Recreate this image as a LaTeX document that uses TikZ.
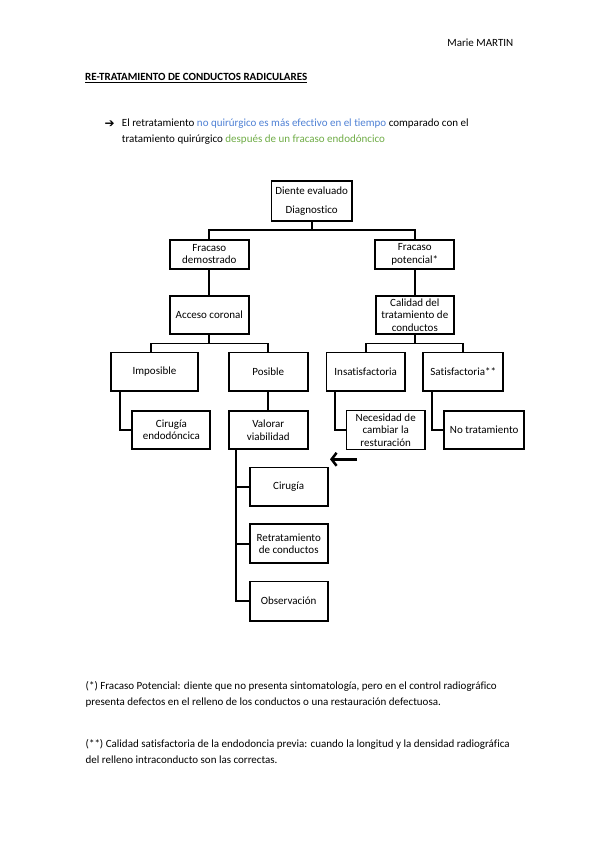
\documentclass[tikz,border=0pt]{standalone}
\usepackage{fontspec}
\setmainfont{Carlito}[Ligatures={NoCommon}]
\newfontfamily\dejavu{DejaVu Sans}
\usetikzlibrary{arrows.meta,calc}
\definecolor{txtblue}{RGB}{79,129,213}
\definecolor{txtgreen}{RGB}{112,173,71}
\begin{document}
\begin{tikzpicture}[x=1pt,y=-1pt,
  box/.style={draw, line width=1.9pt, inner sep=1pt, align=center, font=\fontsize{11}{12.5}\selectfont},
  conn/.style={line width=1.9pt},
  txt/.style={inner sep=0pt, font=\fontsize{11}{13}\selectfont, anchor=base west}]
\useasboundingbox (0,0) rectangle (599,848);
\fill[white] (0,0) rectangle (599,848);

% header texts
\node[txt, anchor=base east] (author) at (513.5,47) {Marie MARTIN};
\node[txt] (title) at (85,80.5) {\textbf{\underline{RE-TRATAMIENTO DE CONDUCTOS RADICULARES}}};
\node[txt] (bullet) at (104.5,127.5) {\dejavu\bfseries\fontsize{12}{12}\selectfont ➔};
\node[txt] (intro1) at (121.7,127) {El retratamiento \textcolor{txtblue}{no quirúrgico es más efectivo en el tiempo} comparado con el};
\node[txt] (intro2) at (121.7,142.5) {tratamiento quirúrgico \textcolor{txtgreen}{después de un fracaso endodóncico}};

% boxes
\node[box, minimum width=80.5pt, minimum height=40.5pt] (diente) at (311.7,201) {Diente evaluado\\[6pt]Diagnostico};
\node[box, minimum width=79pt, minimum height=29pt] (fd) at (209.3,254.2) {Fracaso\\demostrado};
\node[box, minimum width=79pt, minimum height=29pt] (fp) at (414.8,254.2) {Fracaso\\potencial*};
\node[box, minimum width=78.5pt, minimum height=38.5pt] (acceso) at (209.3,315) {Acceso coronal};
\node[box, minimum width=78.5pt, minimum height=38.5pt] (calidad) at (414.8,315) {Calidad del\\tratamiento de\\conductos};
\node[box, minimum width=87.5pt, minimum height=38.5pt] (imposible) at (154.5,371.7) {Imposible};
\node[box, minimum width=78.5pt, minimum height=38.5pt] (posible) at (268.3,371.7) {Posible};
\node[box, minimum width=78.5pt, minimum height=38.5pt] (insat) at (365.7,371.7) {Insatisfactoria};
\node[box, minimum width=80pt, minimum height=38.5pt] (sat) at (463.2,371.7) {Satisfactoria**};
\node[box, minimum width=78pt, minimum height=38.5pt] (cirendo) at (171.4,430) {Cirugía\\endodóncica};
\node[box, minimum width=78.5pt, minimum height=38.5pt] (valorar) at (268.3,430) {Valorar\\viabilidad};
\node[box, minimum width=78.5pt, minimum height=39pt] (nec) at (385.7,430) {Necesidad de\\cambiar la\\resturación};
\node[box, minimum width=80pt, minimum height=38.5pt] (notrat) at (484.2,430) {No tratamiento};
\node[box, minimum width=78pt, minimum height=38.5pt] (cir) at (288.7,486.7) {Cirugía};
\node[box, minimum width=78pt, minimum height=39pt] (retrat) at (288.7,543.7) {Retratamiento\\de conductos};
\node[box, minimum width=78pt, minimum height=39.5pt] (obs) at (288.7,601.2) {Observación};

% connectors
\coordinate (j1) at ($(diente.south)+(0,7.5)$);
\draw[conn] (diente.south) -- (j1);
\draw[conn] (j1) -| (fd.north);
\draw[conn] (j1) -| (fp.north);
\draw[conn] (fd.south) -- (acceso.north);
\draw[conn] (fp.south) -- (calidad.north);

\coordinate (j2) at ($(acceso.south)+(0,8.3)$);
\draw[conn] (acceso.south) -- (j2);
\draw[conn] (j2) -| ([xshift=-3.8pt]imposible.north);
\draw[conn] (j2) -| (posible.north);

\coordinate (j3) at ($(calidad.south)+(0,8.3)$);
\draw[conn] (calidad.south) -- (j3);
\draw[conn] (j3) -| (insat.north);
\draw[conn] (j3) -| (sat.north);

\draw[conn] ([xshift=10pt]imposible.south west) |- (cirendo.west);
\draw[conn] (posible.south) -- (valorar.north);
\draw[conn] ([xshift=9.3pt]insat.south west) |- (nec.west);
\draw[conn] ([xshift=10pt]sat.south west) |- (notrat.west);

\coordinate (trunk) at ([xshift=7.7pt]valorar.south west);
\draw[conn] (trunk) |- (obs.west);
\draw[conn] (cir.west) -- (cir.west -| trunk);
\draw[conn] (retrat.west) -- (retrat.west -| trunk);

% pointer arrow
\coordinate (arrS) at (357,459.3);
\coordinate (arrE) at (330,459.3);
\draw[line width=2.5pt, -{Straight Barb[length=5pt,width=13pt]}] (arrS) -- (arrE);

% footnotes
\node[txt] (fn1a) at (85.5,689.5) {(*) Fracaso Potencial: diente que no presenta sintomatología, pero en el control radiográfico};
\node[txt] (fn1b) at (85.5,705) {presenta defectos en el relleno de los conductos o una restauración defectuosa.};
\node[txt] (fn2a) at (85.5,747) {(**) Calidad satisfactoria de la endodoncia previa: cuando la longitud y la densidad radiográfica};
\node[txt] (fn2b) at (85.5,763.5) {del relleno intraconducto son las correctas.};
\end{tikzpicture}
\end{document}
